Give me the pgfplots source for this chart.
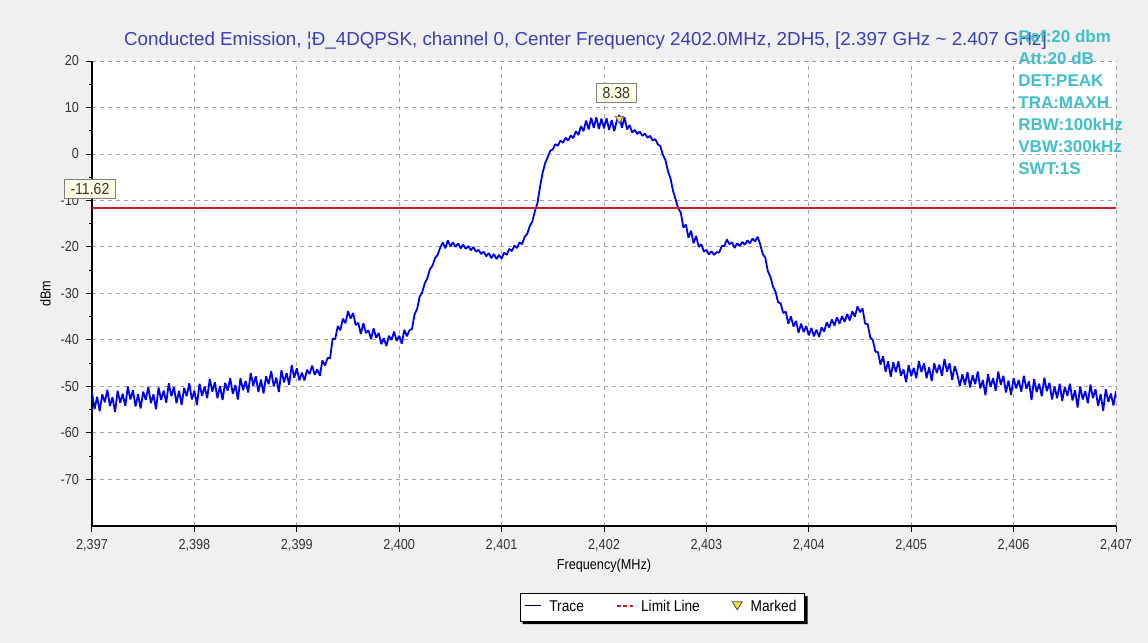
\documentclass[border=0pt]{standalone}
\usepackage{fontspec}
\setmainfont{Liberation Sans}
\newfontfamily\condensed[FakeStretch=0.88]{Liberation Sans}
\usepackage{pgfplots}
\pgfplotsset{compat=1.18}
\usepackage{pgfplotstable}
\usetikzlibrary{calc}
\definecolor{bgc}{HTML}{F0F0F0}
\definecolor{titlec}{HTML}{3A3FB4}
\definecolor{infoc}{HTML}{40C0C8}
\definecolor{tracec}{HTML}{0000F0}
\definecolor{limc}{HTML}{C0202A}
\definecolor{boxc}{HTML}{FFFFE6}
\definecolor{markc}{HTML}{F0E040}

\pgfplotstableread{
x y
2397.000 -51.4
2397.025 -54.9
2397.050 -52.2
2397.075 -55.3
2397.100 -51.7
2397.125 -53.4
2397.150 -50.7
2397.175 -54.2
2397.200 -52.3
2397.225 -55.5
2397.250 -50.9
2397.275 -53.5
2397.300 -51.6
2397.325 -54.2
2397.350 -50.0
2397.375 -52.8
2397.400 -50.8
2397.425 -54.3
2397.450 -51.7
2397.475 -54.7
2397.500 -51.1
2397.525 -52.9
2397.550 -50.1
2397.575 -53.6
2397.600 -51.7
2397.625 -54.9
2397.650 -50.2
2397.675 -52.9
2397.700 -50.9
2397.725 -53.5
2397.750 -49.3
2397.775 -52.1
2397.800 -50.1
2397.825 -53.6
2397.850 -50.9
2397.875 -54.0
2397.900 -50.3
2397.925 -52.1
2397.950 -49.3
2397.975 -52.8
2398.000 -50.9
2398.025 -54.0
2398.050 -49.4
2398.075 -52.0
2398.100 -50.0
2398.125 -52.5
2398.150 -48.4
2398.175 -51.1
2398.200 -49.1
2398.225 -52.5
2398.250 -49.9
2398.275 -52.9
2398.300 -49.2
2398.325 -50.9
2398.350 -48.2
2398.375 -51.6
2398.400 -49.7
2398.425 -52.8
2398.450 -48.2
2398.475 -50.8
2398.500 -48.8
2398.525 -51.3
2398.550 -47.1
2398.575 -49.8
2398.600 -47.8
2398.625 -51.2
2398.650 -48.5
2398.675 -51.5
2398.700 -47.8
2398.725 -49.5
2398.750 -46.7
2398.775 -50.0
2398.800 -48.1
2398.825 -51.2
2398.850 -46.5
2398.875 -49.1
2398.900 -47.1
2398.925 -49.6
2398.950 -45.4
2398.975 -48.1
2399.000 -46.1
2399.025 -48.7
2399.050 -47.0
2399.075 -48.7
2399.100 -46.4
2399.125 -47.3
2399.150 -45.5
2399.175 -47.5
2399.200 -46.3
2399.225 -47.7
2399.250 -44.4
2399.275 -45.5
2399.300 -43.9
2399.325 -43.9
2399.350 -39.7
2399.375 -39.8
2399.400 -37.0
2399.425 -37.9
2399.450 -35.4
2399.475 -36.4
2399.500 -33.8
2399.525 -35.4
2399.550 -34.2
2399.575 -36.8
2399.600 -36.3
2399.625 -38.7
2399.650 -36.4
2399.675 -38.5
2399.700 -37.9
2399.725 -39.8
2399.750 -37.5
2399.775 -39.5
2399.800 -38.5
2399.825 -40.9
2399.850 -39.6
2399.875 -41.3
2399.900 -39.1
2399.925 -40.0
2399.950 -38.2
2399.975 -40.2
2400.000 -39.1
2400.025 -40.8
2400.050 -37.8
2400.075 -39.2
2400.100 -37.9
2400.125 -37.6
2400.150 -34.5
2400.175 -33.3
2400.200 -30.7
2400.225 -29.7
2400.250 -27.8
2400.275 -26.7
2400.300 -24.8
2400.325 -24.0
2400.350 -22.4
2400.375 -21.7
2400.400 -20.2
2400.425 -19.0
2400.450 -20.3
2400.475 -18.6
2400.500 -19.9
2400.525 -19.0
2400.550 -20.0
2400.575 -19.2
2400.600 -20.3
2400.625 -19.5
2400.650 -20.4
2400.675 -19.8
2400.700 -20.7
2400.725 -20.0
2400.750 -21.0
2400.775 -20.6
2400.800 -21.5
2400.825 -21.0
2400.850 -22.0
2400.875 -21.3
2400.900 -22.4
2400.925 -21.5
2400.950 -22.6
2400.975 -21.7
2401.000 -22.5
2401.025 -21.2
2401.050 -21.7
2401.075 -20.4
2401.100 -20.9
2401.125 -19.7
2401.150 -20.2
2401.175 -19.0
2401.200 -19.4
2401.225 -17.8
2401.250 -17.2
2401.275 -15.5
2401.300 -14.5
2401.325 -12.3
2401.350 -10.6
2401.375 -7.1
2401.400 -4.1
2401.425 -2.0
2401.450 -0.7
2401.475 0.7
2401.500 1.0
2401.525 2.1
2401.550 1.8
2401.575 2.9
2401.600 2.4
2401.625 3.5
2401.650 2.9
2401.675 4.0
2401.700 3.4
2401.725 4.9
2401.750 4.1
2401.775 6.0
2401.800 4.9
2401.825 7.2
2401.850 5.3
2401.875 7.8
2401.900 5.6
2401.925 7.9
2401.950 5.4
2401.975 7.6
2402.000 5.5
2402.025 7.7
2402.050 5.2
2402.075 7.3
2402.100 4.9
2402.125 7.2
2402.150 8.38
2402.175 5.6
2402.200 7.9
2402.225 5.3
2402.250 6.2
2402.275 4.6
2402.300 5.2
2402.325 4.3
2402.350 4.8
2402.375 3.9
2402.400 4.4
2402.425 3.5
2402.450 3.9
2402.475 2.9
2402.500 3.2
2402.525 2.1
2402.550 1.7
2402.575 -0.2
2402.600 -1.3
2402.625 -3.7
2402.650 -5.3
2402.675 -8.0
2402.700 -9.8
2402.725 -11.7
2402.750 -12.6
2402.775 -15.8
2402.800 -15.2
2402.825 -18.0
2402.850 -16.5
2402.875 -19.2
2402.900 -17.6
2402.925 -20.0
2402.950 -19.4
2402.975 -21.0
2403.000 -20.6
2403.025 -21.6
2403.050 -20.9
2403.075 -21.7
2403.100 -21.1
2403.125 -21.2
2403.150 -19.8
2403.175 -19.8
2403.200 -18.4
2403.225 -19.4
2403.250 -19.0
2403.275 -20.2
2403.300 -19.2
2403.325 -19.8
2403.350 -18.9
2403.375 -19.5
2403.400 -18.6
2403.425 -19.2
2403.450 -18.2
2403.475 -18.8
2403.500 -17.8
2403.525 -19.4
2403.550 -21.5
2403.575 -22.3
2403.600 -25.2
2403.625 -26.4
2403.650 -28.5
2403.675 -29.6
2403.700 -31.9
2403.725 -32.1
2403.750 -34.2
2403.775 -33.9
2403.800 -36.5
2403.825 -34.9
2403.850 -37.1
2403.875 -35.9
2403.900 -38.4
2403.925 -36.5
2403.950 -38.3
2403.975 -37.0
2404.000 -39.0
2404.025 -37.4
2404.050 -39.2
2404.075 -37.8
2404.100 -39.3
2404.125 -37.3
2404.150 -38.2
2404.175 -36.2
2404.200 -37.3
2404.225 -35.6
2404.250 -36.9
2404.275 -35.1
2404.300 -36.5
2404.325 -34.9
2404.350 -36.1
2404.375 -34.4
2404.400 -35.8
2404.425 -33.8
2404.450 -35.0
2404.475 -32.8
2404.500 -34.0
2404.525 -33.2
2404.550 -36.5
2404.575 -36.6
2404.600 -39.4
2404.625 -40.0
2404.650 -42.5
2404.675 -42.6
2404.700 -45.3
2404.725 -43.5
2404.750 -46.8
2404.775 -44.6
2404.800 -47.9
2404.825 -44.8
2404.850 -46.9
2404.875 -44.6
2404.900 -47.7
2404.925 -46.3
2404.950 -49.1
2404.975 -45.4
2405.000 -47.8
2405.025 -46.0
2405.050 -48.2
2405.075 -44.6
2405.100 -46.9
2405.125 -45.0
2405.150 -48.2
2405.175 -45.9
2405.200 -48.8
2405.225 -45.0
2405.250 -47.1
2405.275 -45.3
2405.300 -47.7
2405.325 -44.1
2405.350 -46.8
2405.375 -45.0
2405.400 -48.6
2405.425 -45.6
2405.450 -47.4
2405.475 -49.9
2405.500 -47.4
2405.525 -49.6
2405.550 -46.9
2405.575 -50.2
2405.600 -47.6
2405.625 -49.5
2405.650 -46.8
2405.675 -50.4
2405.700 -48.6
2405.725 -51.9
2405.750 -47.3
2405.775 -50.1
2405.800 -48.2
2405.825 -50.9
2405.850 -46.8
2405.875 -49.6
2405.900 -47.7
2405.925 -51.3
2405.950 -48.7
2405.975 -51.8
2406.000 -48.2
2406.025 -50.4
2406.050 -48.6
2406.075 -51.1
2406.100 -47.7
2406.125 -50.5
2406.150 -48.9
2406.175 -52.9
2406.200 -48.4
2406.225 -51.2
2406.250 -49.4
2406.275 -52.1
2406.300 -48.1
2406.325 -51.0
2406.350 -49.2
2406.375 -52.8
2406.400 -50.0
2406.425 -52.5
2406.450 -49.4
2406.475 -53.1
2406.500 -50.1
2406.525 -52.0
2406.550 -49.4
2406.575 -53.0
2406.600 -50.8
2406.625 -54.5
2406.650 -50.0
2406.675 -52.8
2406.700 -51.0
2406.725 -53.6
2406.750 -49.6
2406.775 -52.5
2406.800 -50.6
2406.825 -54.2
2406.850 -51.6
2406.875 -55.2
2406.900 -50.6
2406.925 -53.3
2406.950 -51.5
2406.975 -54.1
2407.000 -51.0
}\tracedata

\begin{document}
\begin{tikzpicture}[x=1pt,y=1pt]
\fill[bgc] (-46,-58.5) rectangle (528,263);
\useasboundingbox (-46,-58.5) rectangle (528,263);
\begin{axis}[
  at={(0,0)}, anchor=south west,
  scale only axis, width=512pt, height=232.5pt,
  xmin=2397, xmax=2407, ymin=-80, ymax=20,
  axis background/.style={fill=white},
  axis lines*=left,
  axis line style={line width=1pt, black},
  xtick={2397,2398,...,2407},
  xticklabels={{2,397},{2,398},{2,399},{2,400},{2,401},{2,402},{2,403},{2,404},{2,405},{2,406},{2,407}},
  ytick={-70,-60,...,20},
  minor x tick num=4, minor y tick num=1,
  tick align=outside,
  major tick length=3pt, minor tick length=1.5pt,
  tick style={black, line width=0.5pt},
  grid=major,
  major grid style={dashed, dash pattern=on 2pt off 2pt, gray!70, line width=0.5pt},
  /pgf/number format/assume math mode=true,
  ticklabel style={font=\condensed\fontsize{7.2}{8}\selectfont, text=black!80},
  xlabel={Frequency(MHz)}, ylabel={dBm},
  xlabel style={font=\condensed\fontsize{7.2}{8}\selectfont, yshift=3pt},
  ylabel style={font=\condensed\fontsize{7.2}{8}\selectfont, yshift=-2pt},
  clip mode=individual,
  legend style={at={(0.557,-0.145)}, anchor=north, legend columns=3,
    draw=black, fill=white, font=\condensed\fontsize{7.8}{8.5}\selectfont,
    inner xsep=2pt, inner ysep=1.2pt, name=lgd,
    /tikz/every even column/.append style={column sep=14pt}},
  legend cell align=left,
]
\addlegendimage{legend image code/.code={\draw[black!60!blue, line width=0.6pt] (0pt,0.8pt) -- (8pt,0.8pt); \path (10pt,0pt);}}
\addlegendentry{Trace}
\addlegendimage{legend image code/.code={\draw[limc, line width=0.8pt, dash pattern=on 2pt off 1.2pt] (0pt,0.8pt) -- (8pt,0.8pt); \path (10pt,0pt);}}
\addlegendentry{Limit Line}
\addlegendimage{legend image code/.code={\draw[fill=markc, draw=black!70, line width=0.4pt] (0pt,2.8pt) -- (5pt,2.8pt) -- (2.5pt,-1.2pt) -- cycle; \path (7pt,0pt);}}
\addlegendentry{Marked}
\addplot[tracec, line width=0.9pt, line join=bevel, forget plot] table[x=x,y=y]{\tracedata};
\addplot[limc, line width=1pt, forget plot] coordinates {(2397,-11.62) (2407,-11.62)};
\addplot[only marks, mark=triangle*, mark size=2.3pt, forget plot,
  mark options={rotate=180, fill=markc, draw=black!60, yshift=1.8pt}] coordinates {(2402.15,8.38)};
\node[draw=gray, fill=boxc, font=\condensed\fontsize{8}{9}\selectfont, inner xsep=3pt, inner ysep=2pt, text=black!80] at (axis cs:2402.12,13.2) {8.38};
\node[draw=gray, fill=boxc, font=\condensed\fontsize{8}{9}\selectfont, inner xsep=3pt, inner ysep=2pt, text=black!80] at (axis cs:2396.98,-7.5) {-11.62};
\end{axis}
\fill[black] ($(lgd.south west)+(1.4,-1.4)$) -- ($(lgd.south east)+(1.4,-1.4)$) -- ($(lgd.north east)+(1.4,-1.4)$) -- ($(lgd.north east)+(0,-1.4)$) -- (lgd.south east) -- ($(lgd.south west)+(1.4,0)$) -- cycle;
\node[anchor=west, text=titlec, font=\fontsize{9.4}{10}\selectfont] at (12.5,242.5) {Conducted Emission, ¦Ð\_4DQPSK, channel 0, Center Frequency 2402.0MHz, 2DH5, [2.397 GHz \textasciitilde{} 2.407 GHz]};
\node[anchor=north west, text=infoc, align=left, font=\bfseries\fontsize{8.5}{11}\selectfont, inner sep=0pt] at (463,248) {Ref:20 dbm\\Att:20 dB\\DET:PEAK\\TRA:MAXH\\RBW:100kHz\\VBW:300kHz\\SWT:1S};
\end{tikzpicture}
\end{document}
